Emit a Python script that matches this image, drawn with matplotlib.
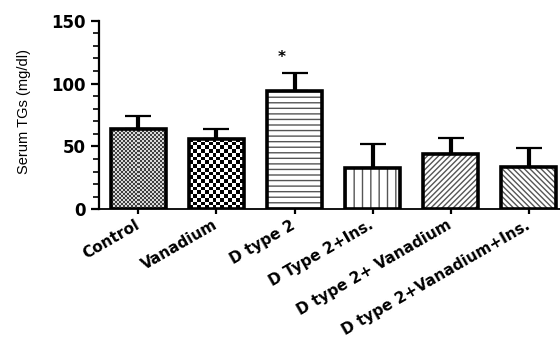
import numpy as np
import matplotlib
matplotlib.use("Agg")
import matplotlib.pyplot as plt
from matplotlib.ticker import MultipleLocator

plt.rcParams['font.family'] = ['DejaVu Sans']

groups = ["Control", "Vanadium", "D type 2", "D Type 2+Ins.",
          "D type 2+ Vanadium", "D type 2+Vanadium+Ins."]
tg_mean = [64, 56, 94, 33, 44, 34]
tg_sem = [10, 8, 14, 19, 13, 15]
significance = ["", "", "*", "", "", ""]

fig = plt.figure(figsize=(5.6, 3.43), dpi=100)
ax = fig.add_axes([0.1773, 0.3898, 0.8227, 0.5499])

x = np.arange(len(groups))
width = 0.7

# upper-only error bars (drawn first, bars cover the lower half)
ax.errorbar(x, tg_mean, yerr=[np.zeros(len(x)), tg_sem], fmt="none",
            ecolor="black", elinewidth=3, capsize=9.5, capthick=1.6, zorder=1)

hatches = [None, None, "---", "||", "//////", "\\" * 6]
plt.rcParams['hatch.linewidth'] = 1.0

fills = ax.bar(x, tg_mean, width, color="white", edgecolor="#555555",
               linewidth=0, zorder=2)
for patch, h in zip(fills, hatches):
    if h:
        patch.set_hatch(h)

# checkerboard fills for the first two groups
def checker(patch, cells_x, cell_px, dark, light):
    x0, y0 = patch.get_x(), patch.get_y()
    w, h = patch.get_width(), patch.get_height()
    cells_y = int(round(h * 1.257 / cell_px))
    board = np.where(np.add.outer(np.arange(cells_y), np.arange(cells_x)) % 2,
                     light, dark).astype(float)
    im = ax.imshow(board, cmap="gray", extent=(x0, x0 + w, y0, y0 + h),
                   interpolation="nearest", aspect="auto", zorder=2.5,
                   vmin=0, vmax=1)
    im.set_clip_path(patch)

checker(fills[0], 27, 2.0, 0.25, 0.85)
checker(fills[1], 14, 3.8, 0.0, 1.0)

ax.bar(x, tg_mean, width, facecolor="none", edgecolor="black",
       linewidth=2.6, zorder=3)

for xi, m, s, lab in zip(x, tg_mean, tg_sem, significance):
    if lab:
        ax.text(xi - 0.17, m + s + 13, lab, ha="center", va="center",
                fontsize=11, fontweight="bold")

ax.set_xlim(-0.5, 5.4)
ax.set_ylim(0, 150)
ax.yaxis.set_major_locator(MultipleLocator(50))
ax.yaxis.set_minor_locator(MultipleLocator(10))

for side in ("top", "right"):
    ax.spines[side].set_visible(False)
ax.spines["left"].set_linewidth(1.6)
ax.spines["bottom"].set_linewidth(1.3)

ax.tick_params(axis="y", which="major", length=6, width=1.6, labelsize=12)
ax.tick_params(axis="y", which="minor", length=4, width=1.2)
ax.tick_params(axis="x", which="major", length=3.5, width=1.6, labelsize=11,
               pad=7)
ax.set_xticks(x)
ax.set_xticklabels(groups, rotation=30, ha="right", va="center",
                   rotation_mode="anchor", fontweight="bold")
for t in ax.get_yticklabels():
    t.set_fontweight("bold")

ax.set_ylabel("Serum TGs (mg/dl)", fontsize=10.5, family="Liberation Sans")
ax.yaxis.set_label_coords(-0.148, 0.52)

fig.savefig("out.png", dpi=100)
